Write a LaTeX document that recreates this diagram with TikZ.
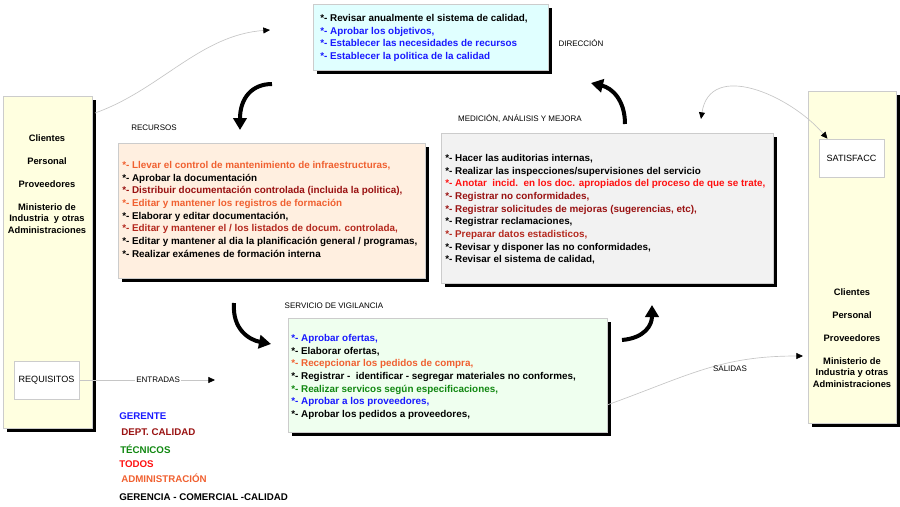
\documentclass[tikz,border=0pt]{standalone}
\usepackage{fontspec}
\setmainfont{Liberation Sans}
\usepackage{xcolor}
\usepackage{tikz}
\usetikzlibrary{arrows.meta,positioning}
\definecolor{gerente}{RGB}{25,25,255}
\definecolor{dptcal}{RGB}{153,17,17}
\definecolor{tecnicos}{RGB}{17,136,17}
\definecolor{todos}{RGB}{255,17,17}
\definecolor{admin}{RGB}{240,96,48}
\definecolor{mixto}{RGB}{180,40,30}
\definecolor{fdir}{RGB}{224,255,255}
\definecolor{frec}{RGB}{255,239,224}
\definecolor{fmed}{RGB}{242,242,242}
\definecolor{fsv}{RGB}{239,255,239}
\definecolor{fside}{RGB}{255,255,224}

\begin{document}
\begin{tikzpicture}[x=0.75pt,y=-0.75pt,
     caja/.style={draw=gray!40,line width=0.5pt},
     sombra/.style={fill=black},
     lst/.style={align=left,inner sep=0pt,anchor=north west,font=\fontsize{7.4}{9.5}\selectfont\bfseries},
     lado/.style={align=center,inner sep=0pt,font=\fontsize{7}{8.8}\selectfont\bfseries},
     rot/.style={inner sep=0pt,font=\fontsize{6}{7}\selectfont},
     leg/.style={inner sep=0pt,anchor=west,font=\fontsize{7.3}{9}\selectfont\bfseries},
     giro/.style={line width=3pt,-{Triangle[length=9pt,width=10pt]}},
     hilo/.style={draw=gray!45,line width=0.5pt,-{Triangle[length=5pt,width=4.5pt,color=black]}},
     hilodoble/.style={hilo,{Triangle[length=5pt,width=4.5pt,color=black]}-{Triangle[length=5pt,width=4.5pt,color=black]}}]
   \useasboundingbox (0,0) rectangle (900,507);
   % cajas con sombra
   \fill[sombra] (317,8) rectangle (552,74);
   \draw[caja,fill=fdir] (313,4) rectangle (548,70);
   \fill[sombra] (7,100) rectangle (96,432);
   \draw[caja,fill=fside] (3,96) rectangle (92,428);
   \fill[sombra] (812,95) rectangle (900,427);
   \draw[caja,fill=fside] (808,91) rectangle (896,423);
   \fill[sombra] (122,147) rectangle (429,282);
   \draw[caja,fill=frec] (118,143) rectangle (425,278);
   \fill[sombra] (445,137) rectangle (777,287);
   \draw[caja,fill=fmed] (441,133) rectangle (773,283);
   \fill[sombra] (292,322) rectangle (611,436);
   \draw[caja,fill=fsv] (288,318) rectangle (607,432);
   \node[caja,fill=white,minimum width=49pt,minimum height=28.5pt,inner sep=0pt,font=\fontsize{6.8}{8}\selectfont] (req) at (46.5,380) {REQUISITOS};
   \node[caja,fill=white,minimum width=49pt,minimum height=28.5pt,inner sep=0pt,font=\fontsize{6.8}{8}\selectfont] (sat) at (851.5,158) {SATISFACC};
   % textos
   \node[lst] (dirtxt) at (320,14) {*- Revisar anualmente el sistema de calidad,\\
     \textcolor{gerente}{*- Aprobar los objetivos,}\\
     \textcolor{gerente}{*- Establecer las necesidades de recursos}\\
     \textcolor{gerente}{*- Establecer la politica de la calidad}};
   \node[lst] (rectxt) at (122,161) {\textcolor{admin}{*- Llevar el control de mantenimiento de infraestructuras,}\\
     *- Aprobar la documentación\\
     \textcolor{dptcal}{*- Distribuir documentación controlada (incluida la politica),}\\
     \textcolor{admin}{*- Editar y mantener los registros de formación}\\
     *- Elaborar y editar documentación,\\
     \textcolor{mixto}{*- Editar y mantener el / los listados de docum. controlada,}\\
     *- Editar y mantener al dia la planificación general / programas,\\
     *- Realizar exámenes de formación interna};
   \node[lst] (medtxt) at (445,154) {*- Hacer las auditorias internas,\\
     *- Realizar las inspecciones/supervisiones del servicio\\
     \textcolor{todos}{*- Anotar\ \ incid.\ \ en los doc. apropiados del proceso de que se trate,}\\
     \textcolor{dptcal}{*- Registrar no conformidades,}\\
     \textcolor{dptcal}{*- Registrar solicitudes de mejoras (sugerencias, etc),}\\
     *- Registrar reclamaciones,\\
     \textcolor{mixto}{*- Preparar datos estadisticos,}\\
     *- Revisar y disponer las no conformidades,\\
     *- Revisar el sistema de calidad,};
   \node[lst] (svtxt) at (291,334) {\textcolor{gerente}{*- Aprobar ofertas,}\\
     *- Elaborar ofertas,\\
     \textcolor{admin}{*- Recepcionar los pedidos de compra,}\\
     *- Registrar -\ \ identificar - segregar materiales no conformes,\\
     \textcolor{tecnicos}{*- Realizar servicos según especificaciones,}\\
     \textcolor{gerente}{*- Aprobar a los proveedores,}\\
     *- Aprobar los pedidos a proveedores,};
   \node[lado,anchor=north] (izqtxt) at (47,134) {Clientes\\[8.5pt]Personal\\[8.5pt]Proveedores\\[8.5pt]Ministerio de\\Industria\ \ y otras\\Administraciones};
   \node[lado,anchor=north] (dertxt) at (852,288) {Clientes\\[8.5pt]Personal\\[8.5pt]Proveedores\\[8.5pt]Ministerio de\\Industria y otras\\Administraciones};
   % rotulos
   \node[rot] (ldir) at (581,43) {DIRECCIÓN};
   \node[rot] (lrec) at (154,128) {RECURSOS};
   \node[rot] (lmed) at (520,119) {MEDICIÓN, ANÁLISIS Y MEJORA};
   \node[rot] (lsv) at (334,306) {SERVICIO DE VIGILANCIA};
   % leyenda
   \node[leg,text=gerente] (lg1) at (119,416) {GERENTE};
   \node[leg,text=dptcal] (lg2) at (121,432) {DEPT. CALIDAD};
   \node[leg,text=tecnicos] (lg3) at (120,449) {TÉCNICOS};
   \node[leg,text=todos] (lg4) at (119,464) {TODOS};
   \node[leg,text=admin] (lg5) at (121,478) {ADMINISTRACIÓN};
   \node[leg] (lg6) at (119,497) {GERENCIA - COMERCIAL -CALIDAD};
   % flechas
   \coordinate (ent) at (215,380);
   \draw[hilo] (req.east) -- node[rot,fill=white,inner sep=1pt,pos=0.58] (lent) {ENTRADAS} (ent);
   \coordinate (izqsal) at (95,113);
   \coordinate (dirent) at (270,30);
   \draw[hilo] (izqsal) .. controls (160,90) and (200,35) .. (dirent);
   \coordinate (medent) at (701,119);
   \coordinate (satent) at ([xshift=-18pt]sat.north);
   \draw[hilodoble] (medent) .. controls (710,60) and (790,95) .. (satent);
   \coordinate (svsal) at (607,405);
   \coordinate (dersal) at (803,356);
   \draw[hilo] (svsal) .. controls (690,375) and (720,356) .. (dersal);
   \node[rot] (lsal) at (730,369) {SALIDAS};
   \draw[giro] (272,84) .. controls (252,84) and (240,98) .. (240,130);
   \draw[giro] (625,124) .. controls (625,100) and (612,88) .. (591,83);
   \draw[giro] (234,303) .. controls (232,330) and (250,340) .. (271,344);
   \draw[giro] (622,340) .. controls (645,338) and (652,325) .. (652,305);
\end{tikzpicture}
\end{document}
